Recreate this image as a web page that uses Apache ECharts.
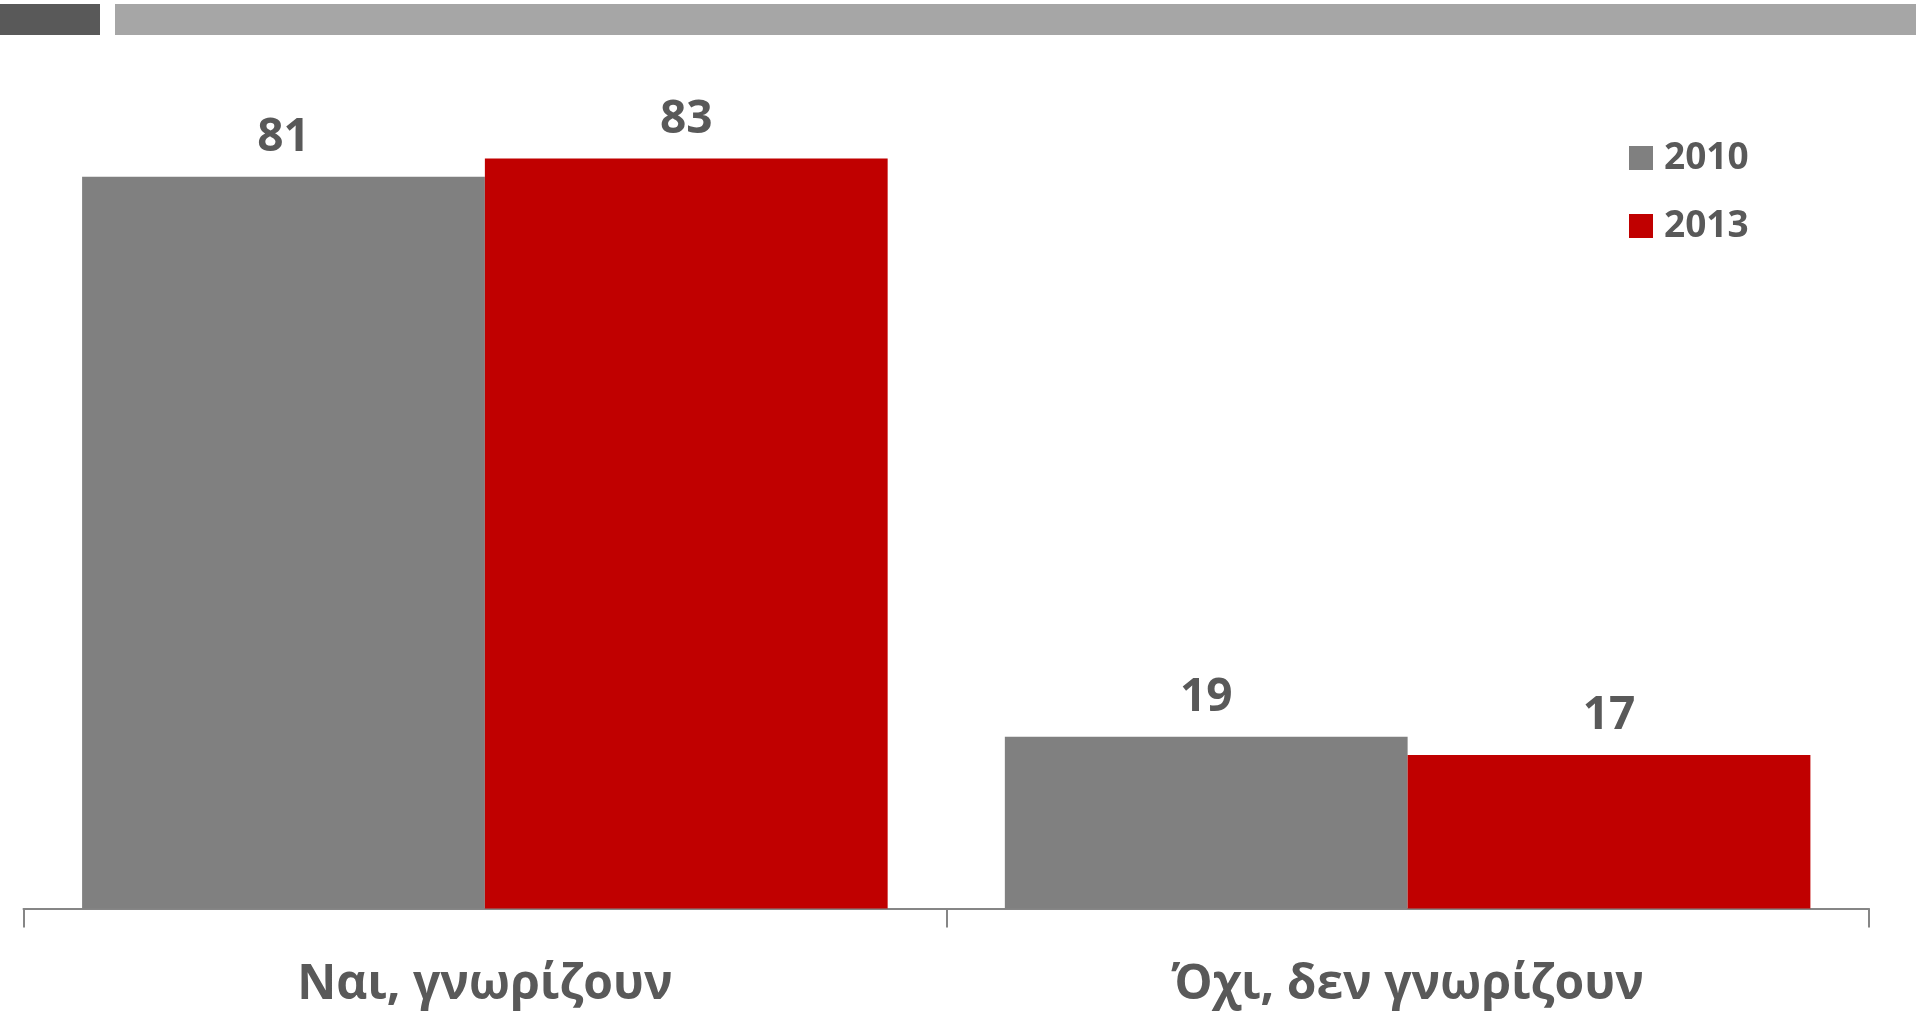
<!DOCTYPE html>
<html>
<head>
<meta charset="utf-8">
<script src="https://cdn.jsdelivr.net/npm/echarts@6/dist/echarts.min.js"></script>
<style>
html,body{margin:0;padding:0;background:#fff;}
#chart{width:1921px;height:1014px;}
</style>
</head>
<body>
<div id="chart"></div>
<script>
const categories = ['Ναι, γνωρίζουν', 'Όχι, δεν γνωρίζουν'];
const seriesNames = ['2010', '2013'];
const values2010 = [81, 19];
const values2013 = [83, 17];

const FONT = '"Open Sans", "Noto Sans", sans-serif';
const TEXT = '#595959';

const chart = echarts.init(document.getElementById('chart'), null, {renderer: 'canvas'});
const labelStyle = {
  show: true, position: 'top', distance: 16,
  color: TEXT, fontFamily: FONT, fontWeight: 'bold', fontSize: 46, lineHeight: 46
};
chart.setOption({
  animation: false,
  backgroundColor: '#ffffff',
  graphic: [
    {type: 'rect', left: 0, top: 4, shape: {width: 100, height: 31}, style: {fill: '#595959'}},
    {type: 'rect', left: 115, top: 4, shape: {width: 1801, height: 31}, style: {fill: '#A6A6A6'}}
  ],
  legend: {
    orient: 'vertical',
    left: 1624, top: 133,
    itemWidth: 24, itemHeight: 24, itemGap: 28,
    icon: 'rect',
    data: seriesNames,
    textStyle: {color: TEXT, fontFamily: FONT, fontWeight: 'bold', fontSize: 37, lineHeight: 40, padding: [0,0,0,6]}
  },
  grid: {left: 23.5, right: 52, top: 5, bottom: 105.5, containLabel: false},
  xAxis: {
    type: 'category',
    data: categories,
    axisLine: {show: true, lineStyle: {color: '#868686', width: 2}},
    axisTick: {show: true, length: 19, lineStyle: {color: '#868686', width: 2}},
    axisLabel: {color: TEXT, fontFamily: FONT, fontWeight: 'bold', fontSize: 48, margin: 53}
  },
  yAxis: {
    type: 'value', min: 0, max: 100, interval: 20,
    show: false,
    splitLine: {show: false}
  },
  series: [
    {name: seriesNames[0], type: 'bar', data: values2010, barGap: '0%', barCategoryGap: '12.7%',
     itemStyle: {color: '#808080'}, label: labelStyle},
    {name: seriesNames[1], type: 'bar', data: values2013, barGap: '0%', barCategoryGap: '12.7%',
     itemStyle: {color: '#C00000'}, label: labelStyle}
  ]
});
</script>
</body>
</html>
